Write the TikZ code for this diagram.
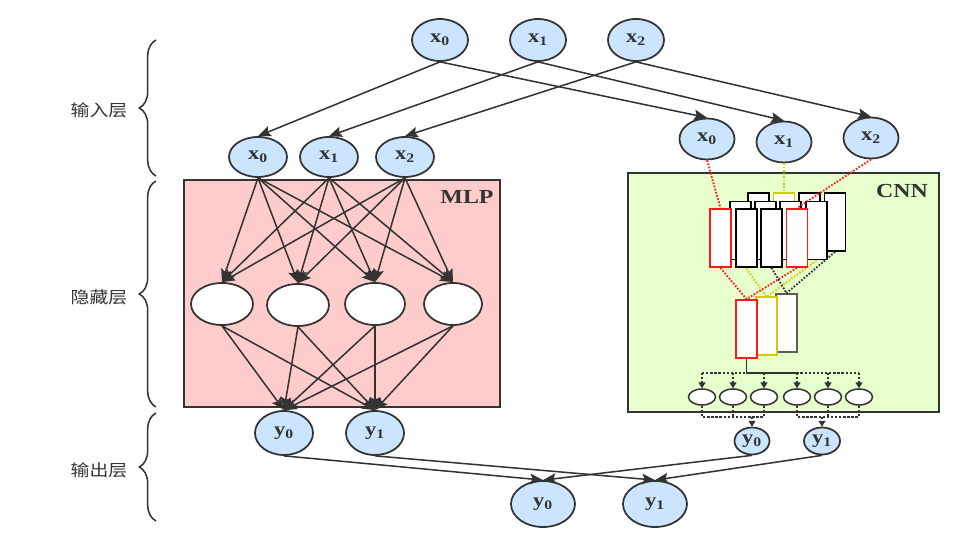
\documentclass[tikz,border=0pt]{standalone}
\usepackage{fontspec}
\setmainfont{Liberation Serif}[FakeStretch=1.2]
\newfontfamily\cjk{Noto Sans CJK SC}[FakeStretch=1.15]
\usetikzlibrary{shapes.geometric,arrows.meta,decorations.pathreplacing}
\definecolor{linegray}{HTML}{333333}
\definecolor{nodeblue}{HTML}{CCE5FF}
\definecolor{mlppink}{HTML}{FFCCCC}
\definecolor{cnngreen}{HTML}{E6FFCC}
\definecolor{mapyellow}{HTML}{CCCC00}
\definecolor{mapred}{HTML}{FF1A1A}
\newcommand{\pxu}{0.03cm}
\begin{document}
\begin{tikzpicture}[x=0.03cm,y=-0.03cm,
  neuron/.style={ellipse,draw=linegray,line width=1.5pt,fill=nodeblue,inner sep=0pt,font=\bfseries\fontsize{16}{16}\selectfont,text=linegray},
  hidden/.style={ellipse,draw=linegray,line width=1.5pt,fill=white,inner sep=0pt},
  fmap/.style={draw,line width=1.5pt,fill=white,minimum width=21*\pxu,minimum height=58*\pxu,inner sep=0pt},
  arr/.style={draw=linegray,line width=1.3pt,-{Stealth[length=11pt,width=9pt,inset=2pt]}},
  sarr/.style={draw=linegray,line width=1.1pt,dash pattern=on 2pt off 1.5pt,-{Triangle[length=5pt,width=6pt]}},
  dlink/.style={draw=linegray,line width=1.1pt,dash pattern=on 2pt off 1.5pt},
  dots/.style={line width=1.6pt,dash pattern=on 1.4pt off 1.4pt},
  brace/.style={draw=linegray,line width=1.3pt,decorate,decoration={brace,amplitude=0.5cm}},
  layer/.style={font=\cjk\fontsize{14}{14}\selectfont,text=linegray}]

\useasboundingbox (0,0) rectangle (966,543);

\node (mlp) at (342,293.5) [draw=linegray,fill=mlppink,line width=1.5pt,minimum width=316*\pxu,minimum height=227*\pxu] {};
\node (cnn) at (783.5,292.5) [draw=linegray,fill=cnngreen,line width=1.5pt,minimum width=311*\pxu,minimum height=239*\pxu] {};
\node (mlpl) at (467,197) [font=\bfseries\fontsize{17}{17}\selectfont,text=linegray] {MLP};
\node (cnnl) at (902,191) [font=\bfseries\fontsize{17}{17}\selectfont,text=linegray] {CNN};

\draw [brace] (156,176) -- (156,40);
\draw [brace] (156,407) -- (156,181);
\draw [brace] (156,521) -- (156,413);
\node (lin) at (99,110) [layer] {输入层};
\node (lhid) at (99,297) [layer] {隐藏层};
\node (lout) at (99,470) [layer] {输出层};

\node (t0) at (440,40) [neuron,minimum width=56*\pxu,minimum height=42*\pxu] {x\textsubscript{0}};
\node (t1) at (538,40) [neuron,minimum width=56*\pxu,minimum height=42*\pxu] {x\textsubscript{1}};
\node (t2) at (636,40) [neuron,minimum width=56*\pxu,minimum height=42*\pxu] {x\textsubscript{2}};

\node (m0) at (258,157) [neuron,minimum width=58*\pxu,minimum height=40*\pxu] {x\textsubscript{0}};
\node (m1) at (329,157) [neuron,minimum width=58*\pxu,minimum height=40*\pxu] {x\textsubscript{1}};
\node (m2) at (405,157) [neuron,minimum width=58*\pxu,minimum height=40*\pxu] {x\textsubscript{2}};

\node (c0) at (707,139) [neuron,minimum width=55*\pxu,minimum height=41*\pxu] {x\textsubscript{0}};
\node (c1) at (784,142) [neuron,minimum width=55*\pxu,minimum height=41*\pxu] {x\textsubscript{1}};
\node (c2) at (871,138) [neuron,minimum width=55*\pxu,minimum height=41*\pxu] {x\textsubscript{2}};

\node (h0) at (222,304) [hidden,minimum width=62*\pxu,minimum height=42*\pxu] {};
\node (h1) at (298,305) [hidden,minimum width=62*\pxu,minimum height=42*\pxu] {};
\node (h2) at (375,304) [hidden,minimum width=60*\pxu,minimum height=42*\pxu] {};
\node (h3) at (453,304) [hidden,minimum width=58*\pxu,minimum height=42*\pxu] {};

\node (my0) at (284,433) [neuron,minimum width=58*\pxu,minimum height=44*\pxu] {y\textsubscript{0}};
\node (my1) at (375,433) [neuron,minimum width=58*\pxu,minimum height=44*\pxu] {y\textsubscript{1}};

\node (ca1) at (758.5,222) [fmap] {};
\node (ca2) at (784,222) [fmap,draw=mapyellow] {};
\node (ca3) at (809.5,222) [fmap] {};
\node (ca4) at (835,222) [fmap] {};
\node (cb1) at (740.5,230.5) [fmap] {};
\node (cb2) at (765.5,230.5) [fmap] {};
\node (cb3) at (790.5,230.5) [fmap] {};
\node (cb4) at (816.5,230.5) [fmap] {};
\draw [dots,mapyellow] (cb1.south) -- (766.5,297);
\draw [dots,mapyellow] (cb4.south) -- (766.5,297);
\node (cc1) at (720.5,238) [fmap,draw=mapred] {};
\node (cc2) at (746.5,238) [fmap] {};
\node (cc3) at (771.5,238) [fmap] {};
\node (cc4) at (797,238) [fmap,draw=mapred] {};

\node (pa) at (786.5,323) [fmap,draw=linegray!80] {};
\node (pb) at (766.5,326) [fmap,draw=mapyellow] {};
\node (pc) at (746.5,329) [fmap,draw=mapred] {};

\draw [dots,mapred] (c0.south) -- (cc1.north);
\draw [dots,mapyellow] (c1.south) -- (ca2.north);
\draw [dots,mapred] (c2.south) -- (cc4.north);
\draw [dots,mapred] (cc1.south) -- (pc.north);
\draw [dots,mapred] (cc4.south) -- (pc.north);
\draw [dots,linegray] (cc3.south) -- (pa.north);
\draw [dots,linegray] (ca4.south) -- (pa.north);

\node (s1) at (702,397) [hidden,line width=1.3pt,minimum width=27*\pxu,minimum height=16*\pxu] {};
\node (s2) at (733,397) [hidden,line width=1.3pt,minimum width=27*\pxu,minimum height=16*\pxu] {};
\node (s3) at (764,397) [hidden,line width=1.3pt,minimum width=27*\pxu,minimum height=16*\pxu] {};
\node (s4) at (797,397) [hidden,line width=1.3pt,minimum width=27*\pxu,minimum height=16*\pxu] {};
\node (s5) at (828,397) [hidden,line width=1.3pt,minimum width=27*\pxu,minimum height=16*\pxu] {};
\node (s6) at (859,397) [hidden,line width=1.3pt,minimum width=27*\pxu,minimum height=16*\pxu] {};

\node (cy0) at (752,441) [neuron,minimum width=35*\pxu,minimum height=27*\pxu] {y\textsubscript{0}};
\node (cy1) at (822,441) [neuron,minimum width=36*\pxu,minimum height=27*\pxu] {y\textsubscript{1}};

\node (y0) at (543,504) [neuron,minimum width=64*\pxu,minimum height=46*\pxu] {y\textsubscript{0}};
\node (y1) at (655,504) [neuron,minimum width=64*\pxu,minimum height=46*\pxu] {y\textsubscript{1}};

\draw [arr] (t0.south) -- (m0.north);
\draw [arr] (t1.south) -- (m1.north);
\draw [arr] (t2.south) -- (m2.north);
\draw [arr] (t0.south) -- (c0.north);
\draw [arr] (t1.south) -- (c1.north);
\draw [arr] (t2.south) -- (c2.north);

\draw [arr] (m0.south) -- (h0.north);
\draw [arr] (m0.south) -- (h1.north);
\draw [arr] (m0.south) -- (h2.north);
\draw [arr] (m0.south) -- (h3.north);
\draw [arr] (m1.south) -- (h0.north);
\draw [arr] (m1.south) -- (h1.north);
\draw [arr] (m1.south) -- (h2.north);
\draw [arr] (m1.south) -- (h3.north);
\draw [arr] (m2.south) -- (h0.north);
\draw [arr] (m2.south) -- (h1.north);
\draw [arr] (m2.south) -- (h2.north);
\draw [arr] (m2.south) -- (h3.north);

\draw [arr] (h0.south) -- (my0.north);
\draw [arr] (h0.south) -- (my1.north);
\draw [arr] (h1.south) -- (my0.north);
\draw [arr] (h1.south) -- (my1.north);
\draw [arr] (h2.south) -- (my0.north);
\draw [arr] (h2.south) -- (my1.north);
\draw [arr] (h3.south) -- (my0.north);
\draw [arr] (h3.south) -- (my1.north);

\coordinate (bus) at (746.5,373);
\draw [draw=linegray,line width=1.4pt] (pc.south) -- (bus) -- (s4 |- bus);
\draw [dlink] (s1 |- bus) -- (s6 |- bus);
\draw [sarr] (s1 |- bus) -- (s1.north);
\draw [sarr] (s2 |- bus) -- (s2.north);
\draw [sarr] (s3 |- bus) -- (s3.north);
\draw [sarr] (s4 |- bus) -- (s4.north);
\draw [sarr] (s5 |- bus) -- (s5.north);
\draw [sarr] (s6 |- bus) -- (s6.north);

\coordinate (obus) at (752,417);
\draw [dlink] (s1.south) -- (s1 |- obus) -- (s3 |- obus) -- (s3.south);
\draw [dlink] (s2.south) -- (s2 |- obus);
\draw [dlink] (s4.south) -- (s4 |- obus) -- (s6 |- obus) -- (s6.south);
\draw [dlink] (s5.south) -- (s5 |- obus);
\draw [sarr] (cy0 |- obus) -- (cy0.north);
\draw [sarr] (cy1 |- obus) -- (cy1.north);

\draw [arr] (my0.south) -- (y0.north);
\draw [arr] (my1.south) -- (y1.north);
\draw [arr] (cy0.south) -- (y0.north);
\draw [arr] (cy1.south) -- (y1.north);

\end{tikzpicture}
\end{document}
